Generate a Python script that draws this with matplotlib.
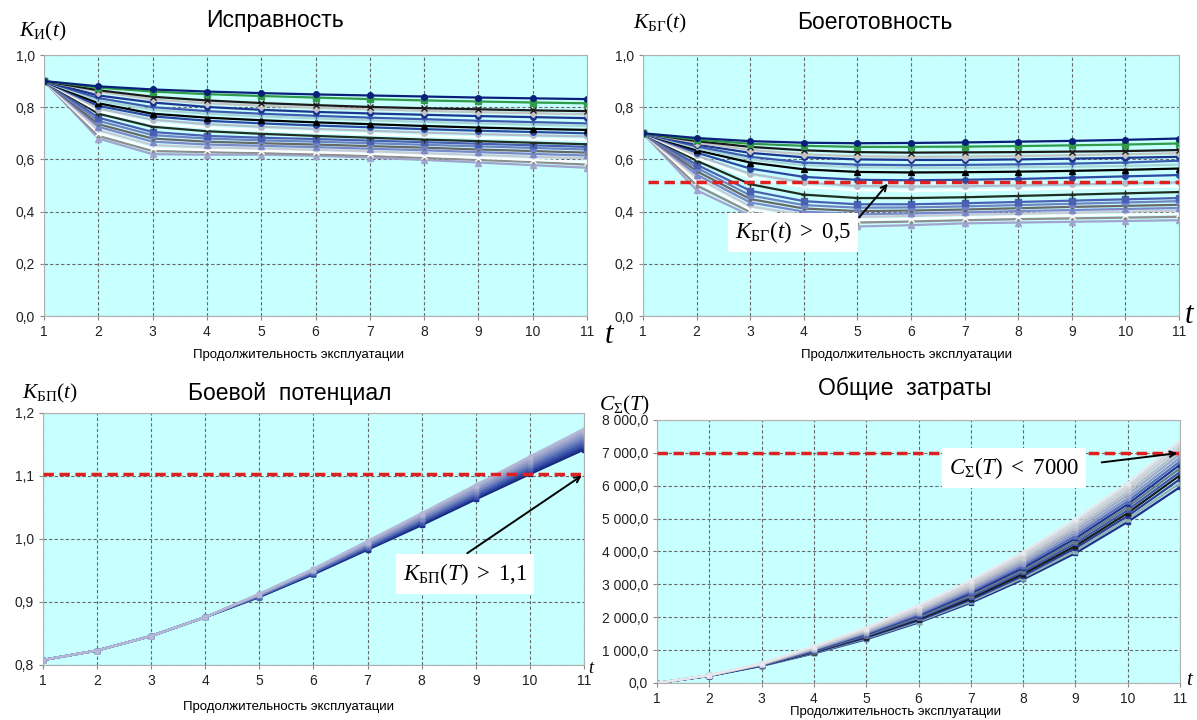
import matplotlib
matplotlib.use("Agg")
import matplotlib.pyplot as plt
from matplotlib.ticker import FuncFormatter

plt.rcParams['font.family'] = ['Liberation Sans', 'DejaVu Sans']
plt.rcParams['mathtext.fontset'] = 'custom'
plt.rcParams['mathtext.rm'] = 'Liberation Serif'
plt.rcParams['mathtext.it'] = 'Liberation Serif:italic'

t = [1, 2, 3, 4, 5, 6, 7, 8, 9, 10, 11]

# Исправность, top curve first
k_i = [
    [0.90, 0.880, 0.868, 0.860, 0.854, 0.849, 0.845, 0.841, 0.837, 0.834, 0.831],
    [0.90, 0.875, 0.860, 0.850, 0.843, 0.837, 0.831, 0.826, 0.822, 0.818, 0.815],
    [0.90, 0.865, 0.840, 0.826, 0.816, 0.808, 0.801, 0.796, 0.792, 0.788, 0.785],
    [0.90, 0.860, 0.830, 0.815, 0.806, 0.798, 0.792, 0.786, 0.781, 0.777, 0.773],
    [0.90, 0.845, 0.818, 0.801, 0.790, 0.782, 0.776, 0.771, 0.766, 0.762, 0.758],
    [0.90, 0.835, 0.800, 0.785, 0.775, 0.767, 0.760, 0.754, 0.748, 0.743, 0.738],
    [0.90, 0.825, 0.790, 0.775, 0.765, 0.757, 0.750, 0.744, 0.738, 0.733, 0.728],
    [0.90, 0.815, 0.775, 0.760, 0.750, 0.742, 0.735, 0.728, 0.722, 0.717, 0.713],
    [0.90, 0.805, 0.765, 0.748, 0.738, 0.730, 0.723, 0.716, 0.710, 0.705, 0.700],
    [0.90, 0.795, 0.752, 0.735, 0.725, 0.717, 0.710, 0.703, 0.697, 0.692, 0.688],
    [0.90, 0.785, 0.738, 0.722, 0.712, 0.704, 0.697, 0.690, 0.684, 0.679, 0.675],
    [0.90, 0.775, 0.725, 0.708, 0.698, 0.690, 0.683, 0.676, 0.670, 0.664, 0.658],
    [0.90, 0.760, 0.705, 0.690, 0.683, 0.678, 0.672, 0.666, 0.660, 0.654, 0.648],
    [0.90, 0.748, 0.693, 0.680, 0.673, 0.668, 0.662, 0.656, 0.650, 0.644, 0.638],
    [0.90, 0.735, 0.680, 0.668, 0.662, 0.657, 0.651, 0.645, 0.638, 0.632, 0.626],
    [0.90, 0.725, 0.668, 0.657, 0.652, 0.647, 0.641, 0.635, 0.628, 0.621, 0.615],
    [0.90, 0.712, 0.655, 0.646, 0.642, 0.637, 0.631, 0.624, 0.617, 0.610, 0.604],
    [0.90, 0.700, 0.642, 0.636, 0.632, 0.627, 0.621, 0.614, 0.606, 0.598, 0.590],
    [0.90, 0.690, 0.632, 0.628, 0.625, 0.620, 0.614, 0.606, 0.598, 0.590, 0.580],
    [0.90, 0.680, 0.620, 0.618, 0.618, 0.614, 0.607, 0.598, 0.588, 0.578, 0.568],
]

# Боеготовность, top curve first
k_bg = [
    [0.70, 0.682, 0.670, 0.664, 0.662, 0.663, 0.665, 0.668, 0.671, 0.675, 0.680],
    [0.70, 0.676, 0.660, 0.652, 0.648, 0.648, 0.649, 0.651, 0.654, 0.657, 0.661],
    [0.70, 0.670, 0.648, 0.635, 0.628, 0.626, 0.627, 0.628, 0.630, 0.632, 0.636],
    [0.70, 0.664, 0.636, 0.620, 0.612, 0.610, 0.611, 0.613, 0.616, 0.620, 0.624],
    [0.70, 0.657, 0.625, 0.608, 0.600, 0.598, 0.598, 0.600, 0.603, 0.606, 0.610],
    [0.70, 0.650, 0.610, 0.588, 0.580, 0.578, 0.579, 0.581, 0.584, 0.588, 0.595],
    [0.70, 0.643, 0.600, 0.578, 0.570, 0.568, 0.568, 0.570, 0.572, 0.575, 0.580],
    [0.70, 0.635, 0.588, 0.562, 0.552, 0.550, 0.551, 0.553, 0.556, 0.560, 0.565],
    [0.70, 0.626, 0.565, 0.533, 0.522, 0.520, 0.522, 0.525, 0.530, 0.535, 0.540],
    [0.70, 0.615, 0.545, 0.512, 0.498, 0.496, 0.497, 0.500, 0.504, 0.508, 0.512],
    [0.70, 0.605, 0.530, 0.495, 0.482, 0.480, 0.482, 0.485, 0.489, 0.493, 0.497],
    [0.70, 0.595, 0.505, 0.465, 0.452, 0.452, 0.455, 0.460, 0.465, 0.470, 0.475],
    [0.70, 0.580, 0.480, 0.440, 0.428, 0.428, 0.432, 0.437, 0.442, 0.447, 0.452],
    [0.70, 0.568, 0.462, 0.425, 0.415, 0.416, 0.420, 0.425, 0.430, 0.435, 0.440],
    [0.70, 0.555, 0.448, 0.412, 0.402, 0.404, 0.408, 0.413, 0.418, 0.422, 0.426],
    [0.70, 0.542, 0.435, 0.400, 0.390, 0.393, 0.397, 0.402, 0.406, 0.410, 0.414],
    [0.70, 0.530, 0.420, 0.388, 0.380, 0.383, 0.388, 0.392, 0.396, 0.400, 0.404],
    [0.70, 0.515, 0.408, 0.375, 0.368, 0.372, 0.377, 0.381, 0.385, 0.388, 0.392],
    [0.70, 0.500, 0.398, 0.365, 0.358, 0.362, 0.367, 0.371, 0.374, 0.377, 0.380],
    [0.70, 0.482, 0.385, 0.352, 0.343, 0.348, 0.355, 0.358, 0.361, 0.364, 0.367],
]

# Боевой потенциал, bottom curve first
k_bp = [
    [0.808, 0.823, 0.846, 0.876, 0.908, 0.944, 0.983, 1.022, 1.063, 1.103, 1.142],
    [0.808, 0.823, 0.846, 0.876, 0.908, 0.945, 0.984, 1.024, 1.065, 1.106, 1.145],
    [0.808, 0.823, 0.846, 0.876, 0.909, 0.946, 0.985, 1.026, 1.067, 1.108, 1.148],
    [0.808, 0.823, 0.846, 0.876, 0.909, 0.946, 0.987, 1.027, 1.069, 1.111, 1.151],
    [0.808, 0.823, 0.846, 0.876, 0.910, 0.947, 0.988, 1.029, 1.071, 1.113, 1.154],
    [0.808, 0.823, 0.846, 0.876, 0.910, 0.948, 0.989, 1.031, 1.073, 1.116, 1.157],
    [0.808, 0.823, 0.846, 0.876, 0.911, 0.949, 0.990, 1.032, 1.075, 1.118, 1.160],
    [0.808, 0.823, 0.846, 0.876, 0.911, 0.950, 0.992, 1.034, 1.077, 1.121, 1.163],
    [0.808, 0.823, 0.846, 0.876, 0.912, 0.950, 0.993, 1.036, 1.079, 1.123, 1.166],
    [0.808, 0.823, 0.846, 0.876, 0.912, 0.951, 0.994, 1.038, 1.082, 1.126, 1.169],
    [0.808, 0.823, 0.846, 0.876, 0.913, 0.952, 0.996, 1.040, 1.084, 1.129, 1.172],
    [0.808, 0.823, 0.846, 0.876, 0.913, 0.953, 0.997, 1.041, 1.086, 1.131, 1.175],
]

# Общие затраты, bottom curve first
c_sum = [
    [0, 215, 520, 900, 1330, 1840, 2440, 3150, 3950, 4900, 5960],
    [0, 217, 525, 915, 1355, 1870, 2480, 3200, 4020, 4990, 6080],
    [0, 218, 530, 930, 1380, 1905, 2530, 3260, 4100, 5080, 6200],
    [0, 220, 535, 945, 1405, 1940, 2580, 3320, 4170, 5170, 6320],
    [0, 222, 540, 960, 1430, 1975, 2630, 3380, 4250, 5260, 6420],
    [0, 223, 545, 975, 1455, 2010, 2680, 3440, 4320, 5350, 6530],
    [0, 225, 550, 990, 1480, 2050, 2730, 3500, 4400, 5440, 6640],
    [0, 227, 555, 1005, 1505, 2085, 2780, 3570, 4480, 5530, 6740],
    [0, 228, 560, 1020, 1530, 2120, 2830, 3630, 4560, 5620, 6850],
    [0, 230, 565, 1035, 1555, 2160, 2880, 3700, 4640, 5720, 6960],
    [0, 232, 570, 1050, 1580, 2200, 2930, 3770, 4720, 5810, 7060],
    [0, 234, 575, 1070, 1610, 2240, 2990, 3840, 4800, 5910, 7170],
    [0, 236, 585, 1090, 1640, 2290, 3050, 3910, 4890, 6000, 7270],
    [0, 238, 595, 1120, 1680, 2360, 3120, 3980, 4980, 6080, 7380],
]

top_colors = ['#0a1f7a', '#2f9a48', '#1a1a1a', '#c4c4c4', '#1d3590', '#3e5cae',
              '#a8d6d8', '#000000', '#2b49a3', '#b4bccc', '#ffffff', '#1e2e22',
              '#4a60b2', '#6f84c2', '#686868', '#7b89c9', '#cacad4', '#ffffff',
              '#8e8e8e', '#a0a4cf']
top_markers = ['o', 's', 'x', 'D', 'o', '+', '.', '^', 'o', 'o', '.', '+',
               's', 's', '.', '^', '.', 'x', '.', '^']
bp_colors = ['#16267a', '#1f3592', '#2d45a0', '#3c55aa', '#4b63b2', '#5c72b8',
             '#6e80be', '#7e8dc2', '#8e99c6', '#9ca4ca', '#aab0cf', '#b4b8d6']
cs_colors = ['#1c2f8a', '#8fb0b0', '#2a3f98', '#1a1a1a', '#3b56aa', '#6a7a86',
             '#1f3592', '#5a6fb8', '#8a96c4', '#a0a8c8', '#b8bcc8', '#c8ccd4',
             '#d4d6dc', '#e8e8ee']

fig = plt.figure(figsize=(11.97, 7.2), dpi=100)
ax1 = fig.add_axes([0.0368, 0.5611, 0.4536, 0.3625])
ax2 = fig.add_axes([0.5372, 0.5611, 0.4478, 0.3625])
ax3 = fig.add_axes([0.0359, 0.0764, 0.4520, 0.3500])
ax4 = fig.add_axes([0.5489, 0.0514, 0.4369, 0.3653])

comma = FuncFormatter(lambda v, p: f"{v:.1f}".replace('.', ','))
thous = FuncFormatter(lambda v, p: f"{v:,.1f}".replace(',', ' ').replace('.', ','))

for ax in [ax1, ax2, ax3, ax4]:
    ax.set_facecolor('#c8ffff')
    ax.set_axisbelow(True)
    ax.grid(True, linestyle=(0, (3, 2)), color='#6a6a6a', linewidth=0.8)
    ax.set_xlim(1, 11)
    ax.set_xticks(t)
    for s in ax.spines.values():
        s.set_color('#b0b0b0')
    ax.tick_params(labelsize=10, colors='#222222', length=3, color='#888888')

for i in range(len(k_i) - 1, -1, -1):
    ax1.plot(t, k_i[i], color=top_colors[i], lw=1.6, marker=top_markers[i], ms=4,
             mec=top_colors[i])
ax1.set_ylim(0, 1)
ax1.set_yticks([0, 0.2, 0.4, 0.6, 0.8, 1.0])
ax1.yaxis.set_major_formatter(comma)

for i in range(len(k_bg) - 1, -1, -1):
    ax2.plot(t, k_bg[i], color=top_colors[i], lw=1.6, marker=top_markers[i], ms=4,
             mec=top_colors[i])
ax2.set_ylim(0, 1)
ax2.set_yticks([0, 0.2, 0.4, 0.6, 0.8, 1.0])
ax2.yaxis.set_major_formatter(comma)
ax2.hlines(0.515, 1.1, 11, colors='#e02020', linestyles=(0, (3, 1.6)), lw=2.5, zorder=5)
ax2.annotate('', xy=(5.6, 0.515), xytext=(5.0, 0.37),
             arrowprops=dict(arrowstyle='->', color='black', lw=1.4), zorder=6)
ax2.text(3.8, 0.32, r'$K_{\mathrm{БГ}}(t)\ >\ 0{,}5$', fontsize=16.5, ha='center', va='center',
         bbox=dict(fc='white', ec='none', pad=5), zorder=7)

for i in range(len(k_bp)):
    ax3.plot(t, k_bp[i], color=bp_colors[i], lw=1.6, marker='^' if i % 2 else 's', ms=3.5,
             mec=bp_colors[i])
ax3.set_ylim(0.8, 1.2)
ax3.set_yticks([0.8, 0.9, 1.0, 1.1, 1.2])
ax3.yaxis.set_major_formatter(comma)
ax3.hlines(1.103, 1, 11, colors='#e02020', linestyles=(0, (3, 1.6)), lw=2.5, zorder=5)
ax3.annotate('', xy=(11.0, 1.103), xytext=(8.8, 0.975),
             arrowprops=dict(arrowstyle='->', color='black', lw=1.4), zorder=6)
ax3.text(8.8, 0.944, r'$K_{\mathrm{БП}}(T)\ >\ 1{,}1$', fontsize=16.5, ha='center', va='center',
         bbox=dict(fc='white', ec='none', pad=5), zorder=7)

for i in range(len(c_sum)):
    ax4.plot(t, c_sum[i], color=cs_colors[i], lw=1.6, marker='^' if i % 2 else 's', ms=3.5,
             mec=cs_colors[i])
ax4.set_ylim(0, 8000)
ax4.set_yticks(range(0, 8001, 1000))
ax4.yaxis.set_major_formatter(thous)
ax4.hlines(6990, 1, 11, colors='#e02020', linestyles=(0, (3, 1.6)), lw=2.5, zorder=5)
ax4.annotate('', xy=(11.0, 7000), xytext=(9.45, 6700),
             arrowprops=dict(arrowstyle='->', color='black', lw=1.4), zorder=6)
ax4.text(7.83, 6540, r'$C_{\Sigma}(T)\ <\ 7000$', fontsize=16.5, ha='center', va='center',
         bbox=dict(fc='white', ec='none', pad=5), zorder=7)

# titles and axis texts
fig.text(0.2297, 0.972, 'Исправность', fontsize=16.5, ha='center', va='center')
fig.text(0.731, 0.969, 'Боеготовность', fontsize=16.5, ha='center', va='center')
fig.text(0.2423, 0.4528, 'Боевой  потенциал', fontsize=16.5, ha='center', va='center')
fig.text(0.756, 0.461, 'Общие  затраты', fontsize=16.5, ha='center', va='center')

fig.text(0.036, 0.956, r'$K_{\mathrm{И}}(t)$', fontsize=15.5, ha='center', va='center')
fig.text(0.551, 0.967, r'$K_{\mathrm{БГ}}(t)$', fontsize=15.5, ha='center', va='center')
fig.text(0.042, 0.454, r'$K_{\mathrm{БП}}(t)$', fontsize=15.5, ha='center', va='center')
fig.text(0.522, 0.4375, r'$C_{\Sigma}(T)$', fontsize=15.5, ha='center', va='center')

xl = 'Продолжительность эксплуатации'
fig.text(0.249, 0.507, xl, fontsize=9.5, ha='center', va='center')
fig.text(0.757, 0.507, xl, fontsize=9.5, ha='center', va='center')
fig.text(0.2414, 0.018, xl, fontsize=9.5, ha='center', va='center')
fig.text(0.748, 0.011, xl, fontsize=9.5, ha='center', va='center')

fig.text(0.509, 0.535, r'$t$', fontsize=22, ha='center', va='center')
fig.text(0.994, 0.5625, r'$t$', fontsize=22, ha='center', va='center')
fig.text(0.4945, 0.072, r'$t$', fontsize=13, ha='center', va='center')
fig.text(0.994, 0.056, r'$t$', fontsize=15, ha='center', va='center')

fig.savefig('out.png', dpi=100)
